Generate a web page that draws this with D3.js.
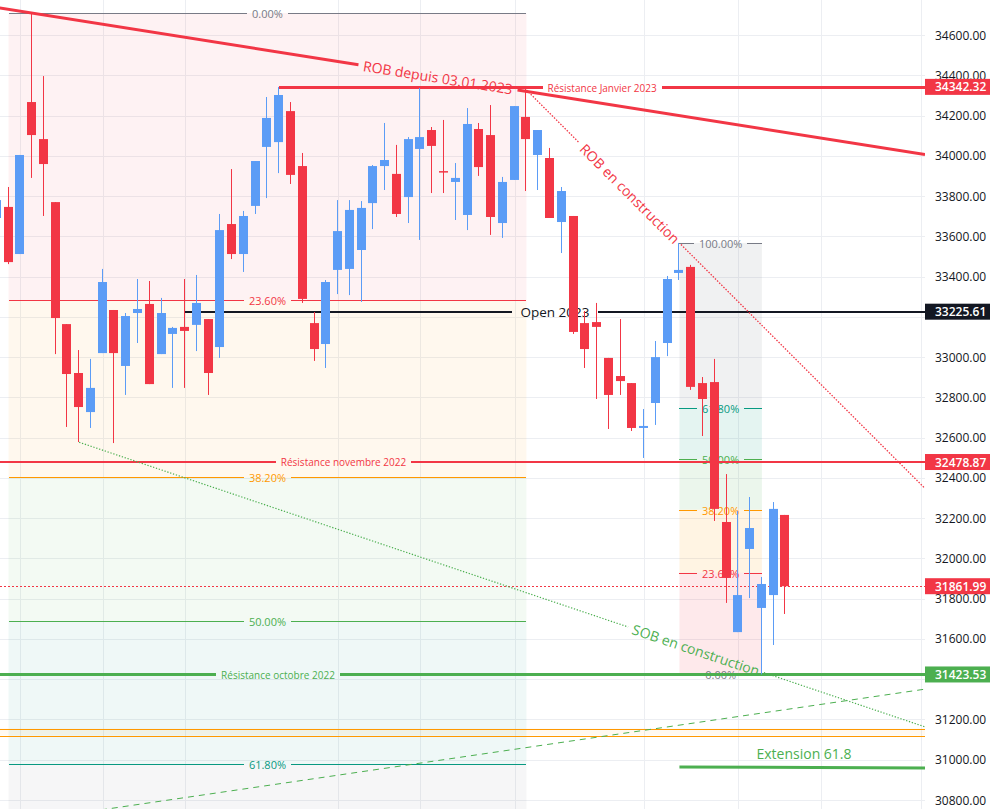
<!DOCTYPE html>
<html><head><meta charset="utf-8">
<script src="https://cdn.jsdelivr.net/npm/d3@7"></script>
<style>
body{margin:0;background:#fff;}
svg{display:block;}
text{font-family:"Open Sans","Noto Sans",sans-serif;}
</style></head>
<body>
<script>
// ---------- DATA ----------
const firstIndex = -1;
const opens  = [33691,33746,33512,34267,34083,33770,33164,32921,32727,33020,33234,32956,33219,33264,33015,33115,33150,33160,33189,33050,33661,33512,33751,34044,34068,34222,33949,33169,33065,33433,33438,33532,33765,33949,33910,33795,34034,34128,33924,33870,33706,34133,34103,33666,33880,34193,34004,33989,33671,33701,33169,33174,32996,32906,32871,32648,32772,33070,33418,33448,32871,32876,32181,31634,32047,31754,31818,32216];
const highs  = [33790,33845,34004,34709,34396,33770,33164,33035,32991,33438,33234,33219,33388,33378,33294,33150,33388,33408,33189,33711,33934,33726,33974,34292,34342,34267,34014,33224,33383,33780,33780,33775,33954,34163,34054,34093,34337,34143,34178,33964,34237,34163,34252,33895,34247,34337,34128,34039,33845,33701,33229,33269,32996,33189,32871,32742,33080,33403,33567,33458,32901,32991,32419,32236,32305,31908,32280,32216];
const lows   = [33681,33462,33512,33890,33701,33015,32653,32578,32648,33020,32573,32812,33070,32866,33015,32847,32847,33030,32812,32996,33487,33423,33711,33790,33914,33860,33269,32981,32946,33313,33308,33274,33636,33830,33696,33666,33582,33815,33815,33681,33631,33900,33607,33592,33880,33825,33830,33691,33517,33115,32946,32792,32643,32812,32633,32499,32663,33005,33383,32837,32608,32186,31779,31634,31803,31423.53,31570,31724];
const closes = [33780,33472,34004,34103,33959,33194,32916,32752,32847,33373,33020,33204,33239,32866,33219,33145,33130,33269,32921,33631,33512,33701,33974,34188,34302,33905,33289,33040,33373,33626,33731,33741,33949,33979,33711,34083,34093,34049,33919,33890,34158,33944,33696,33870,34247,34083,34128,33691,33825,33125,33040,33150,32812,32881,32648,32658,33000,33388,33433,32852,32792,32246,31903,31818,32151,31873,32246,31861.99];

const yTicks = [30800,31000,31200,31400,31600,31800,32000,32200,32400,32600,32800,33000,33200,33400,33600,33800,34000,34200,34400,34600];
const timeGridIdx = [1,8,15,28,35,43,54,62,69,77.5];

const fibLevels  = [0,0.236,0.382,0.5,0.618,1];
const fibLabels  = ["0.00%","23.60%","38.20%","50.00%","61.80%","100.00%"];
const fibColors  = ["#787b86","#f23645","#ff9800","#4caf50","#089981","#787b86"];
const fibLeft  = {high:34709, low:28670, i0:0, i1:44};
const fibRight = {high:33567, low:31423.53, i0:57, i1:64};

const resJanvier = 34342.32, resNovembre = 32478.87, resOctobre = 31423.53, open2023 = 33225.61, lastPrice = 31861.99;
const orangeBand = [31155, 31120];

// trend lines: [index, price] anchor pairs
const robDepuis = [[2,34709],[44,34320]];
const robConstr = [[44,34327],[57,33567]];
const sobConstr = [[6,32577],[64,31436]];
const greenDash = [[8,30752],[66,31249]];
const extension = [[57,30964],[77.4,30959]];

const axisBoxes = [
  {p:34342.32, c:"#f23645"},
  {p:33225.61, c:"#131722"},
  {p:32478.87, c:"#f23645"},
  {p:31861.99, c:"#f23645"},
  {p:31423.53, c:"#4caf50"}
];

// ---------- SETUP ----------
const W=994, H=809, PW=925;
const x = d3.scaleLinear().domain([0,66]).range([8.5,785.4]);
const y = d3.scaleLinear().domain([30800,34600]).range([800,35]);
const svg = d3.select("body").append("svg").attr("width",W).attr("height",H);
svg.append("rect").attr("width",W).attr("height",H).attr("fill","#fff");
svg.append("defs").append("clipPath").attr("id","plotclip").append("rect").attr("width",PW).attr("height",H);

const grid = svg.append("g");
const plot = svg.append("g").attr("clip-path","url(#plotclip)");
const fills = plot.append("g");
const draw = plot.append("g");
const candlesG = plot.append("g");
const axisG = svg.append("g");

// gridlines
yTicks.forEach(t=>{
  grid.append("line").attr("x1",0).attr("x2",PW).attr("y1",Math.round(y(t))+0.5).attr("y2",Math.round(y(t))+0.5)
    .attr("stroke","#eceef2").attr("stroke-width",1);
});
timeGridIdx.forEach(i=>{
  grid.append("line").attr("x1",Math.round(x(i))+0.5).attr("x2",Math.round(x(i))+0.5).attr("y1",0).attr("y2",H)
    .attr("stroke","#eceef2").attr("stroke-width",1);
});

// helper: horizontal line with a labelled gap
function hLine(g0, x1, x2, yv, color, sw, label, cx, fs, opts={}){
  const g = g0.append("g");
  const lg = g.append("g");
  const yy = Math.round(yv) + (sw%2===1?0.5:0);
  let segs = [[x1,x2]];
  if(label){
    const t = g.append("text").attr("x",cx).attr("y",yy).attr("text-anchor","middle")
      .attr("dominant-baseline","central").attr("font-size",fs).attr("fill",opts.textColor||color)
      .text(label);
    const w = t.node().getComputedTextLength();
    const pad = opts.pad||6;
    segs = [[x1, cx - w/2 - pad],[cx + w/2 + pad, x2]];
  }
  segs.forEach(s=>{
    if(s[1]>s[0]) lg.append("line").attr("x1",s[0]).attr("x2",s[1]).attr("y1",yy).attr("y2",yy)
      .attr("stroke",color).attr("stroke-width",sw).attr("stroke-dasharray",opts.dash||null)
      .attr("shape-rendering","crispEdges");
  });
}

// helper: sloped line through two anchors, extended, with labelled gap
function slopeLine(g0, anchors, xa, xb, color, sw, dash, label, cxLabel, fs){
  const g = g0.append("g");
  const lg = g.append("g");
  const p1=[x(anchors[0][0]), y(anchors[0][1])], p2=[x(anchors[1][0]), y(anchors[1][1])];
  const m = (p2[1]-p1[1])/(p2[0]-p1[0]);
  const fy = xx => p1[1] + m*(xx-p1[0]);
  const ang = Math.atan(m)*180/Math.PI;
  let segs = [[xa,xb]];
  if(label){
    const cy = fy(cxLabel);
    const t = g.append("text").attr("x",0).attr("y",0).attr("text-anchor","middle")
      .attr("dominant-baseline","central").attr("font-size",fs).attr("fill",color)
      .attr("transform",`translate(${cxLabel},${cy}) rotate(${ang})`).text(label);
    const w = t.node().getComputedTextLength() + 10;
    const dx = (w/2)*Math.cos(Math.atan(m));
    segs = [[xa, cxLabel-dx],[cxLabel+dx, xb]];
  }
  segs.forEach(s=>{
    lg.append("line").attr("x1",s[0]).attr("y1",fy(s[0])).attr("x2",s[1]).attr("y2",fy(s[1]))
      .attr("stroke",color).attr("stroke-width",sw).attr("stroke-dasharray",dash);
  });
}

// ---------- FIBS ----------
function fib(f, fromTop, alpha){
  const xa = x(f.i0), xb = x(f.i1), cx = (xa+xb)/2;
  const price = l => fromTop ? f.high - l*(f.high-f.low) : f.low + l*(f.high-f.low);
  for(let i=1;i<fibLevels.length;i++){
    const y1 = y(price(fibLevels[i-1])), y2 = y(price(fibLevels[i]));
    fills.append("rect").attr("x",xa).attr("width",xb-xa)
      .attr("y",Math.min(y1,y2)).attr("height",Math.abs(y2-y1))
      .attr("fill",fibColors[i]).attr("fill-opacity",alpha);
  }
  fibLevels.forEach((l,i)=>{
    const yy = y(price(l));
    if(yy < 0 || yy > H) return;
    hLine(draw, xa, xb, yy, fibColors[i], 1, fibLabels[i], cx, 11, {pad:5});
  });
}
fib(fibLeft, true, 0.065);
fib(fibRight, false, 0.11);

// orange band
fills.append("rect").attr("x",0).attr("width",PW).attr("y",y(orangeBand[0])).attr("height",y(orangeBand[1])-y(orangeBand[0]))
  .attr("fill","#ff9800").attr("fill-opacity",0.06);
orangeBand.forEach(p=>hLine(draw,0,PW,y(p),"#ff9800",1));

// horizontal resistances
const xRight = PW;
hLine(draw, x(23), xRight, y(resJanvier), "#f23645", 3, "Résistance Janvier 2023", (x(23)+xRight)/2, 10, {pad:5});
hLine(draw, 0, xRight, y(resNovembre), "#f23645", 2, "Résistance novembre 2022", 343.5, 10, {pad:5});
hLine(draw, 0, xRight, y(resOctobre), "#4caf50", 3, "Résistance octobre 2022", 278, 10, {pad:5});
hLine(draw, x(15), xRight, y(open2023), "#131722", 2, "Open 2023", 555, 13.5, {pad:8});
hLine(draw, 0, xRight, y(lastPrice), "#f23645", 1, null, 0, 0, {dash:"1.5,2.5"});

// trend lines
slopeLine(draw, robDepuis, -5, PW, "#f23645", 3, null, "ROB depuis 03.01.2023", 438, 14);
slopeLine(draw, robConstr, x(44), PW, "#f23645", 1.3, "1.5,1.5", "ROB en construction", 630, 14);
slopeLine(draw, sobConstr, x(6), PW, "#4caf50", 1.2, "1.3,1.7", "SOB en construction", 696, 14);
slopeLine(draw, greenDash, 90, PW, "#4caf50", 1, "6,5", null);
slopeLine(draw, extension, x(57), PW, "#4caf50", 3, null, null);
draw.append("text").attr("x",804).attr("y",759).attr("text-anchor","middle").attr("font-size",14)
  .attr("fill","#4caf50").text("Extension 61.8");

// ---------- CANDLES ----------
opens.forEach((o,k)=>{
  const i = firstIndex + k, c = closes[k], h = highs[k], l = lows[k];
  const up = c >= o, col = up ? "#5b9cf6" : "#f23645";
  const cx = x(i), left = Math.floor(cx-4.5);
  candlesG.append("line").attr("x1",left+4.5).attr("x2",left+4.5).attr("y1",y(h)).attr("y2",y(l))
    .attr("stroke",col).attr("stroke-width",1);
  const top = y(Math.max(o,c)), bot = y(Math.min(o,c));
  candlesG.append("rect").attr("x",left).attr("width",9).attr("y",top).attr("height",Math.max(1.5,bot-top)).attr("fill",col);
});

// ---------- AXIS ----------
yTicks.forEach(t=>{
  // labels fully hidden behind a price box are not drawn
  if(axisBoxes.some(b=>Math.abs(y(b.p)-y(t))<8)) return;
  axisG.append("text").attr("x",935).attr("y",y(t)).attr("dominant-baseline","central")
    .attr("font-size",12).attr("fill","#131722").text(d3.format(".2f")(t));
});
axisBoxes.forEach(b=>{
  const yy = y(b.p);
  axisG.append("rect").attr("x",925).attr("y",yy-8).attr("width",65).attr("height",16).attr("fill",b.c);
  axisG.append("text").attr("x",935).attr("y",yy).attr("dominant-baseline","central")
    .attr("font-size",12).attr("font-weight",600).attr("fill","#fff").text(d3.format(".2f")(b.p));
});
</script>
</body></html>
